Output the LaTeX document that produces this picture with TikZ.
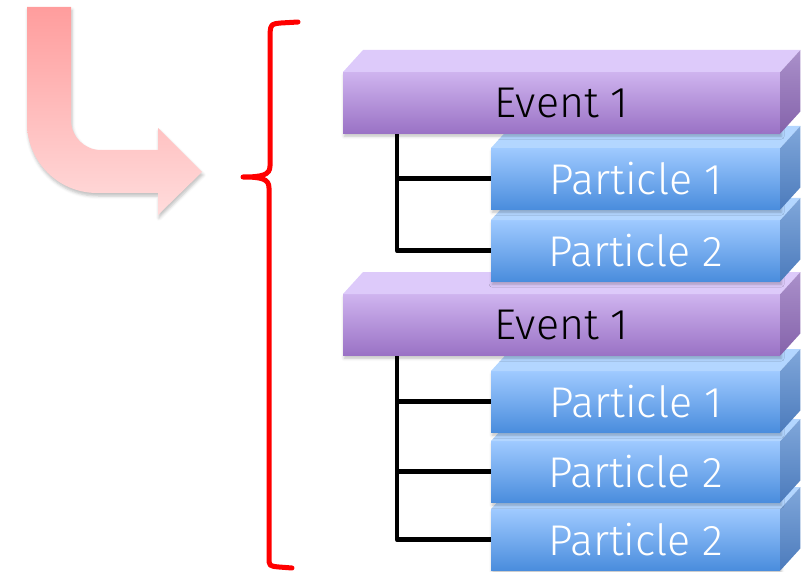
\documentclass[tikz,border=0pt]{standalone}
\usepackage{fontspec}
\setmainfont{Fira Sans Light}
\usetikzlibrary{shadows.blur}
\pgfdeclarelayer{background}
\pgfsetlayers{background,main}

\definecolor{evtTop}{HTML}{DDCAFA}
\definecolor{evtFrontA}{HTML}{CFB4EF}
\definecolor{evtFrontB}{HTML}{9A72C5}
\definecolor{evtSideA}{HTML}{AA90CA}
\definecolor{evtSideB}{HTML}{8563AB}
\definecolor{parTop}{HTML}{B3D6FF}
\definecolor{parFrontA}{HTML}{9FCAFF}
\definecolor{parFrontB}{HTML}{4A8DDD}
\definecolor{parSideA}{HTML}{80A7DA}
\definecolor{parSideB}{HTML}{4C7BBC}
\definecolor{arrowA}{HTML}{FF9D9D}
\definecolor{arrowB}{HTML}{FFDCDC}
\definecolor{braceRed}{HTML}{FF0000}

\tikzset{
  boxshadow/.style={blur shadow={shadow xshift=1pt, shadow yshift=-3pt,
      shadow blur radius=3pt, shadow opacity=25}},
  frontbase/.style={anchor=north west, minimum height=61pt, inner sep=0pt,
      font=\fontsize{43}{43}\selectfont},
  evtfront/.style={frontbase, top color=evtFrontA, bottom color=evtFrontB,
      text=black, boxshadow},
  evttop/.style={fill=evtTop},
  evtside/.style={top color=evtSideA, bottom color=evtSideB},
  parfront/.style={frontbase, top color=parFrontA, bottom color=parFrontB,
      text=white, boxshadow},
  partop/.style={fill=parTop},
  parside/.style={top color=parSideA, bottom color=parSideB},
  conn/.style={line width=4.5pt, black, line join=round},
  bracket/.style={line width=5pt, braceRed, line cap=round, line join=round},
}

% #1 name, #2 evt/par, #3 x, #4 y, #5 width, #6 label
\newcommand\blockbox[6]{%
  \node[#2front, minimum width=#5pt] (#1) at (#3,#4) {#6};
  \fill[#2top] (#1.north west) -- ++(20,-22)
    -- ([shift={(20,-22)}]#1.north east) -- (#1.north east) -- cycle;
  \shade[#2side] (#1.north east) -- ++(20,-22)
    -- ([shift={(20,-22)}]#1.south east) -- (#1.south east) -- cycle;
}

\begin{document}
\begin{tikzpicture}[x=1pt,y=-1pt]
\useasboundingbox (0,0) rectangle (808,572);

% bent arrow
\shade[top color=arrowA, bottom color=arrowB, boxshadow]
  (27,7) -- (71,7) -- (71,120)
  .. controls (71,136.6) and (84.4,150) .. (101,150)
  -- (158,150) -- (158,128) -- (202,172) -- (158,215) -- (158,193)
  -- (97,193) .. controls (58.3,193) and (27,161.7) .. (27,123) -- cycle;

% curly bracket
\draw[bracket] (298,22) -- (281,23) .. controls (271,24) .. (270,33)
  -- (270,166) .. controls (270,175) and (262,177) .. (243,177)
  (243,177) .. controls (262,177) and (269,179) .. (269,188)
  -- (269,557) .. controls (269,566) .. (279,567) -- (292,568);

% second group, drawn bottom-up
\blockbox{p23}{par}{491}{509}{289}{Particle 2}
\blockbox{p22}{par}{491}{441}{289}{Particle 2}
\blockbox{p21}{par}{491}{371}{289}{Particle 1}
\blockbox{e2}{evt}{343}{294}{437}{Event 1}
% first group
\blockbox{p12}{par}{491}{220}{289}{Particle 2}
\blockbox{p11}{par}{491}{148}{289}{Particle 1}
\blockbox{e1}{evt}{343}{72}{437}{Event 1}

\begin{pgfonlayer}{background}
  \coordinate (t1) at ([xshift=54pt]e1.south west);
  \draw[conn] (t1) |- (p12.west);
  \draw[conn] (t1 |- p11.west) -- (p11.west);
  \coordinate (t2) at ([xshift=54pt]e2.south west);
  \draw[conn] (t2) |- (p23.west);
  \draw[conn] (t2 |- p21.west) -- (p21.west);
  \draw[conn] (t2 |- p22.west) -- (p22.west);
\end{pgfonlayer}
\end{tikzpicture}
\end{document}
